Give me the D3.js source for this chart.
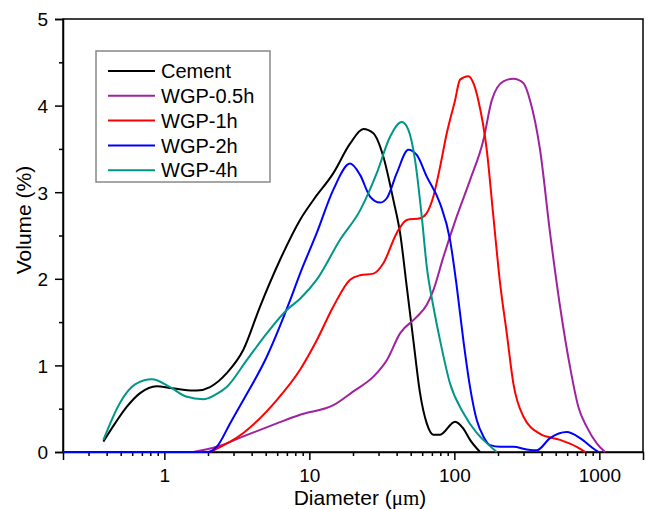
<!DOCTYPE html>
<html>
<head>
<meta charset="utf-8">
<script src="https://cdn.jsdelivr.net/npm/d3@7"></script>
<style>
  html, body { margin: 0; padding: 0; background: #fff; }
  svg { display: block; font-family: "Liberation Sans", Arial, sans-serif; }
</style>
</head>
<body>
<svg id="chart" width="646" height="509"></svg>
<script>
// ---- data: [diameter (µm), volume (%)] ----
const cement = [[0.38,0.12],[0.457,0.33],[0.55,0.52],[0.68,0.68],[0.886,0.76],[1.095,0.74],[1.346,0.72],[1.673,0.71],[2.066,0.75],[2.693,0.91],[3.506,1.18],[4.571,1.68],[6.281,2.22],[8.628,2.68],[10.66,2.91],[14.64,3.22],[19.09,3.56],[23.58,3.73],[27.63,3.68],[32.39,3.41],[37.97,2.91],[42.23,2.53],[46.96,1.91],[52.15,1.29],[58.0,0.68],[64.53,0.33],[71.66,0.20],[79.68,0.20],[101.1,0.35],[115.4,0.27],[128.3,0.14],[150.4,0]];
const wgp05 = [[1.585,0],[2.298,0.06],[3.506,0.18],[5.962,0.33],[8.628,0.43],[14.64,0.54],[20.11,0.70],[27.63,0.87],[34.19,1.06],[42.23,1.37],[55.04,1.56],[64.53,1.70],[71.66,1.87],[83.97,2.25],[103.9,2.72],[128.3,3.14],[158.5,3.60],[181.1,4.06],[217.8,4.28],[255.3,4.31],[299.2,4.26],[332.7,4.06],[390,3.49],[457.1,2.53],[535.8,1.68],[628.1,0.98],[716.6,0.52],[818.8,0.29],[959.6,0.10],[1095,0]];
const wgp1 = [[2.066,0],[3.506,0.22],[5.962,0.60],[8.628,0.95],[11.25,1.29],[14.64,1.68],[19.09,1.99],[22.38,2.04],[27.63,2.06],[32.39,2.18],[40.08,2.53],[46.96,2.68],[58.0,2.70],[64.53,2.76],[71.66,2.95],[79.68,3.29],[88.64,3.68],[101.1,4.06],[109.5,4.30],[124.9,4.34],[136,4.25],[146.4,4.06],[167.3,3.49],[185.8,2.72],[206.7,1.95],[229.9,1.37],[255.3,0.79],[299.2,0.41],[390,0.21],[535.8,0.14],[698.6,0.06],[800,0]];
const wgp2 = [[0.2,0],[2.0,0],[2.298,0.06],[2.839,0.33],[3.506,0.60],[5.085,1.10],[7.36,1.75],[8.628,2.06],[11.25,2.53],[14.64,3.03],[19.09,3.33],[22.38,3.20],[26.22,2.95],[30.74,2.88],[34.19,2.93],[40.08,3.22],[48.18,3.49],[55.04,3.43],[64.53,3.18],[79.68,2.87],[93.39,2.45],[103.9,1.91],[115.4,1.29],[128.3,0.75],[142.7,0.37],[158.5,0.18],[176.3,0.08],[206.7,0.06],[255.3,0.06],[315.7,0.03],[370.1,0.02],[457.1,0.16],[596.2,0.23],[736.2,0.16],[909.2,0.04],[984.2,0]];
const wgp4 = [[0.38,0.14],[0.495,0.57],[0.628,0.78],[0.819,0.84],[1.095,0.75],[1.411,0.64],[1.858,0.61],[2.237,0.66],[2.693,0.75],[3.7,1.06],[5.085,1.37],[6.985,1.64],[8.628,1.77],[11.25,1.99],[16.28,2.45],[22.38,2.79],[29.17,3.22],[36.03,3.64],[43.38,3.81],[48.18,3.72],[53.58,3.37],[59.59,2.72],[64.53,2.14],[71.66,1.68],[79.68,1.29],[93.39,0.79],[115.4,0.45],[142.7,0.22],[158.5,0.14],[196.1,0]];

const seriesNames = ["Cement", "WGP-0.5h", "WGP-1h", "WGP-2h", "WGP-4h"];
const seriesData = [cement, wgp05, wgp1, wgp2, wgp4];
const seriesColors = ["#000000", "#a0229f", "#ff0000", "#0000ff", "#009688"];

const xMajorTicks = [1, 10, 100, 1000];
const xMinorTicks = [0.3,0.4,0.5,0.6,0.7,0.8,0.9,2,3,4,5,6,7,8,9,20,30,40,50,60,70,80,90,200,300,400,500,600,700,800,900];
const yMajorTicks = [0, 1, 2, 3, 4, 5];
const yMinorTicks = [0.5, 1.5, 2.5, 3.5, 4.5];

// ---- layout ----
const L = 63, R = 643, T = 19, B = 452;
const svg = d3.select("#chart");
const x = d3.scaleLog().domain([0.2, 2000]).range([L, R]);
const y = d3.scaleLinear().domain([0, 5]).range([B, T]);

// frame
svg.append("rect").attr("x", L).attr("y", T).attr("width", R - L).attr("height", B - T)
  .attr("fill", "none").attr("stroke", "#000").attr("stroke-width", 1.5);

function styleAxis(g) {
  g.select(".domain").attr("stroke", "#000").attr("stroke-width", 1.5);
  g.selectAll(".tick line").attr("stroke", "#000").attr("stroke-width", 1.5);
  g.selectAll(".tick text").attr("fill", "#000").style("font-size", "19px")
    .style("font-family", "'Liberation Sans', Arial, sans-serif");
}

// x axis
const gx = svg.append("g").attr("transform", `translate(0,${B})`)
  .call(d3.axisBottom(x).tickValues(xMajorTicks).tickFormat(d3.format("d")).tickSize(8).tickPadding(9));
styleAxis(gx);
const gxm = svg.append("g").attr("transform", `translate(0,${B})`)
  .call(d3.axisBottom(x).tickValues(xMinorTicks).tickFormat("").tickSize(4));
styleAxis(gxm);
gxm.select(".domain").remove();

// y axis
const gy = svg.append("g").attr("transform", `translate(${L},0)`)
  .call(d3.axisLeft(y).tickValues(yMajorTicks).tickFormat(d3.format("d")).tickSize(8).tickPadding(7));
styleAxis(gy);
gy.selectAll(".tick text").attr("dy", "0.36em");
const gym = svg.append("g").attr("transform", `translate(${L},0)`)
  .call(d3.axisLeft(y).tickValues(yMinorTicks).tickFormat("").tickSize(4));
styleAxis(gym);
gym.select(".domain").remove();

// axis titles
const xt = svg.append("text").attr("x", 360).attr("y", 505)
  .attr("text-anchor", "middle").style("font-size", "21px").attr("fill", "#000");
xt.append("tspan").text("Diameter (");
xt.append("tspan").text("μm").style("font-family", "'Liberation Serif', 'Times New Roman', serif");
xt.append("tspan").text(")");

svg.append("text").attr("transform", `translate(31,220) rotate(-90)`)
  .attr("text-anchor", "middle").style("font-size", "21px").attr("fill", "#000")
  .text("Volume (%)");

// curves
const line = d3.line().x(d => x(d[0])).y(d => y(d[1])).curve(d3.curveMonotoneX);
seriesData.forEach((s, i) => {
  svg.append("path").datum(s).attr("d", line)
    .attr("fill", "none").attr("stroke", seriesColors[i]).attr("stroke-width", 2)
    .attr("stroke-linejoin", "round");
});

// legend
const lg = svg.append("g");
lg.append("rect").attr("x", 96).attr("y", 51).attr("width", 174).attr("height", 131)
  .attr("fill", "#fff").attr("stroke", "#888").attr("stroke-width", 1.5);
seriesNames.forEach((n, i) => {
  const yy = 71 + i * 24.8;
  lg.append("line").attr("x1", 108).attr("x2", 155).attr("y1", yy).attr("y2", yy)
    .attr("stroke", seriesColors[i]).attr("stroke-width", 2);
  lg.append("text").attr("x", 161).attr("y", yy).attr("dy", "0.36em")
    .style("font-size", "20px").attr("fill", "#000").text(n);
});
</script>
</body>
</html>
